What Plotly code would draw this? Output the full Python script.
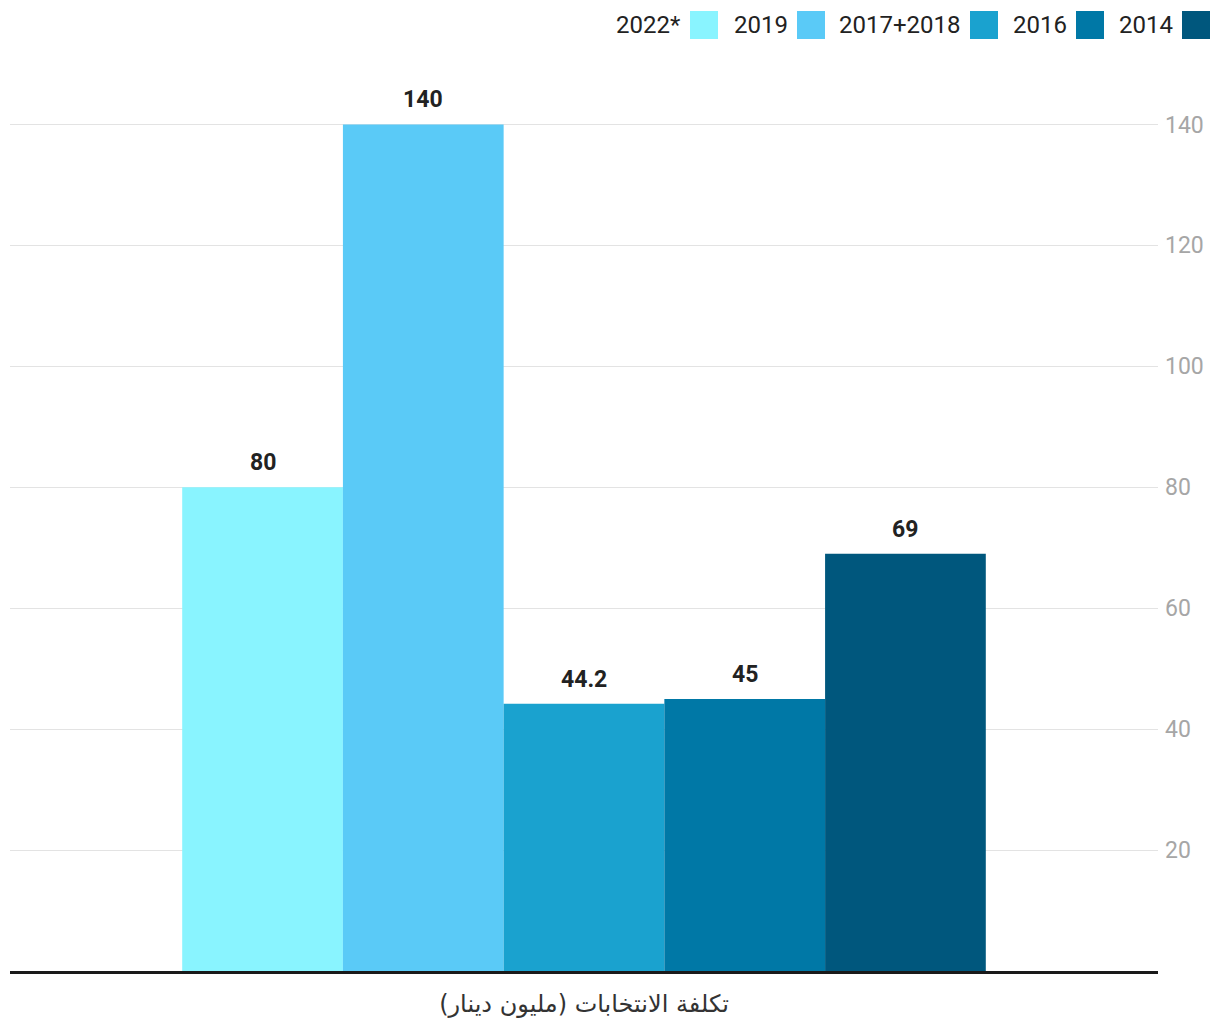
import plotly.graph_objects as go

category = ["تكلفة الانتخابات (مليون دينار)"]
years = ["2022*", "2019", "2017+2018", "2016", "2014"]
values = [80, 140, 44.2, 45, 69]
colors = ["#89F4FF", "#5ACAF7", "#1AA2CF", "#0078A6", "#00577D"]
value_labels = ["80", "140", "44.2", "45", "69"]
ytickvals = [20, 40, 60, 80, 100, 120, 140]

W, H = 1220, 1020
L, R, T, B = 10, 62, 64, 49
pw, ph = W - L - R, H - T - B
BARGAP = 0.3

def px_x(x):
    return (x - L) / pw

def px_y(y):
    return (H - B - y) / ph

fig = go.Figure()
n = len(years)
bw = (1 - BARGAP) / n
for i, (yr, v, c, lab) in enumerate(zip(years, values, colors, value_labels)):
    fig.add_trace(go.Bar(
        x=category, y=[v], name=yr, marker=dict(color=c, line=dict(width=0)),
        showlegend=False, hoverinfo="y",
    ))
    # value label above each bar (bar centre within the group)
    xc = -(1 - BARGAP) / 2 + bw * (i + 0.5)
    fig.add_annotation(xref="x", yref="y", x=xc, y=v, text=f"<b>{lab}</b>",
                       showarrow=False, yanchor="bottom", yshift=9,
                       font=dict(family="Roboto", size=23, color="#222222"))

# Legend (RTL style: text then square on its right)
sq_left = [690, 797, 970, 1076, 1182]
sq_size = 28
sq_top = 11
for yr, c, sl in zip(years, colors, sq_left):
    fig.add_shape(type="rect", xref="paper", yref="paper",
                  x0=px_x(sl), x1=px_x(sl + sq_size),
                  y0=px_y(sq_top + sq_size), y1=px_y(sq_top),
                  fillcolor=c, line=dict(width=0))
    fig.add_annotation(xref="paper", yref="paper", x=px_x(sl - 7), y=px_y(sq_top + sq_size / 2),
                       text=yr, showarrow=False, xanchor="right", yanchor="middle",
                       font=dict(family="Roboto", size=24, color="#222222"))

fig.update_layout(
    width=W, height=H,
    margin=dict(l=L, r=R, t=T, b=B, autoexpand=False),
    paper_bgcolor="white", plot_bgcolor="white",
    barmode="group", bargap=BARGAP, bargroupgap=0,
    font=dict(family="Roboto"),
    xaxis=dict(showline=True, linecolor="#1a1a1a", linewidth=2.5, ticks="",
               showgrid=False, automargin=False,
               tickfont=dict(family="DejaVu Sans", size=24, color="#333333"),
               ticklabelstandoff=9),
    yaxis=dict(side="right", range=[0, 150], tickvals=ytickvals,
               showgrid=True, gridcolor="#e3e3e3", gridwidth=1,
               zeroline=False, showline=False, ticks="", automargin=False,
               tickfont=dict(family="Roboto", size=23, color="#a6a6a6"),
               ticklabelstandoff=6),
)

fig.write_html("out.html")
